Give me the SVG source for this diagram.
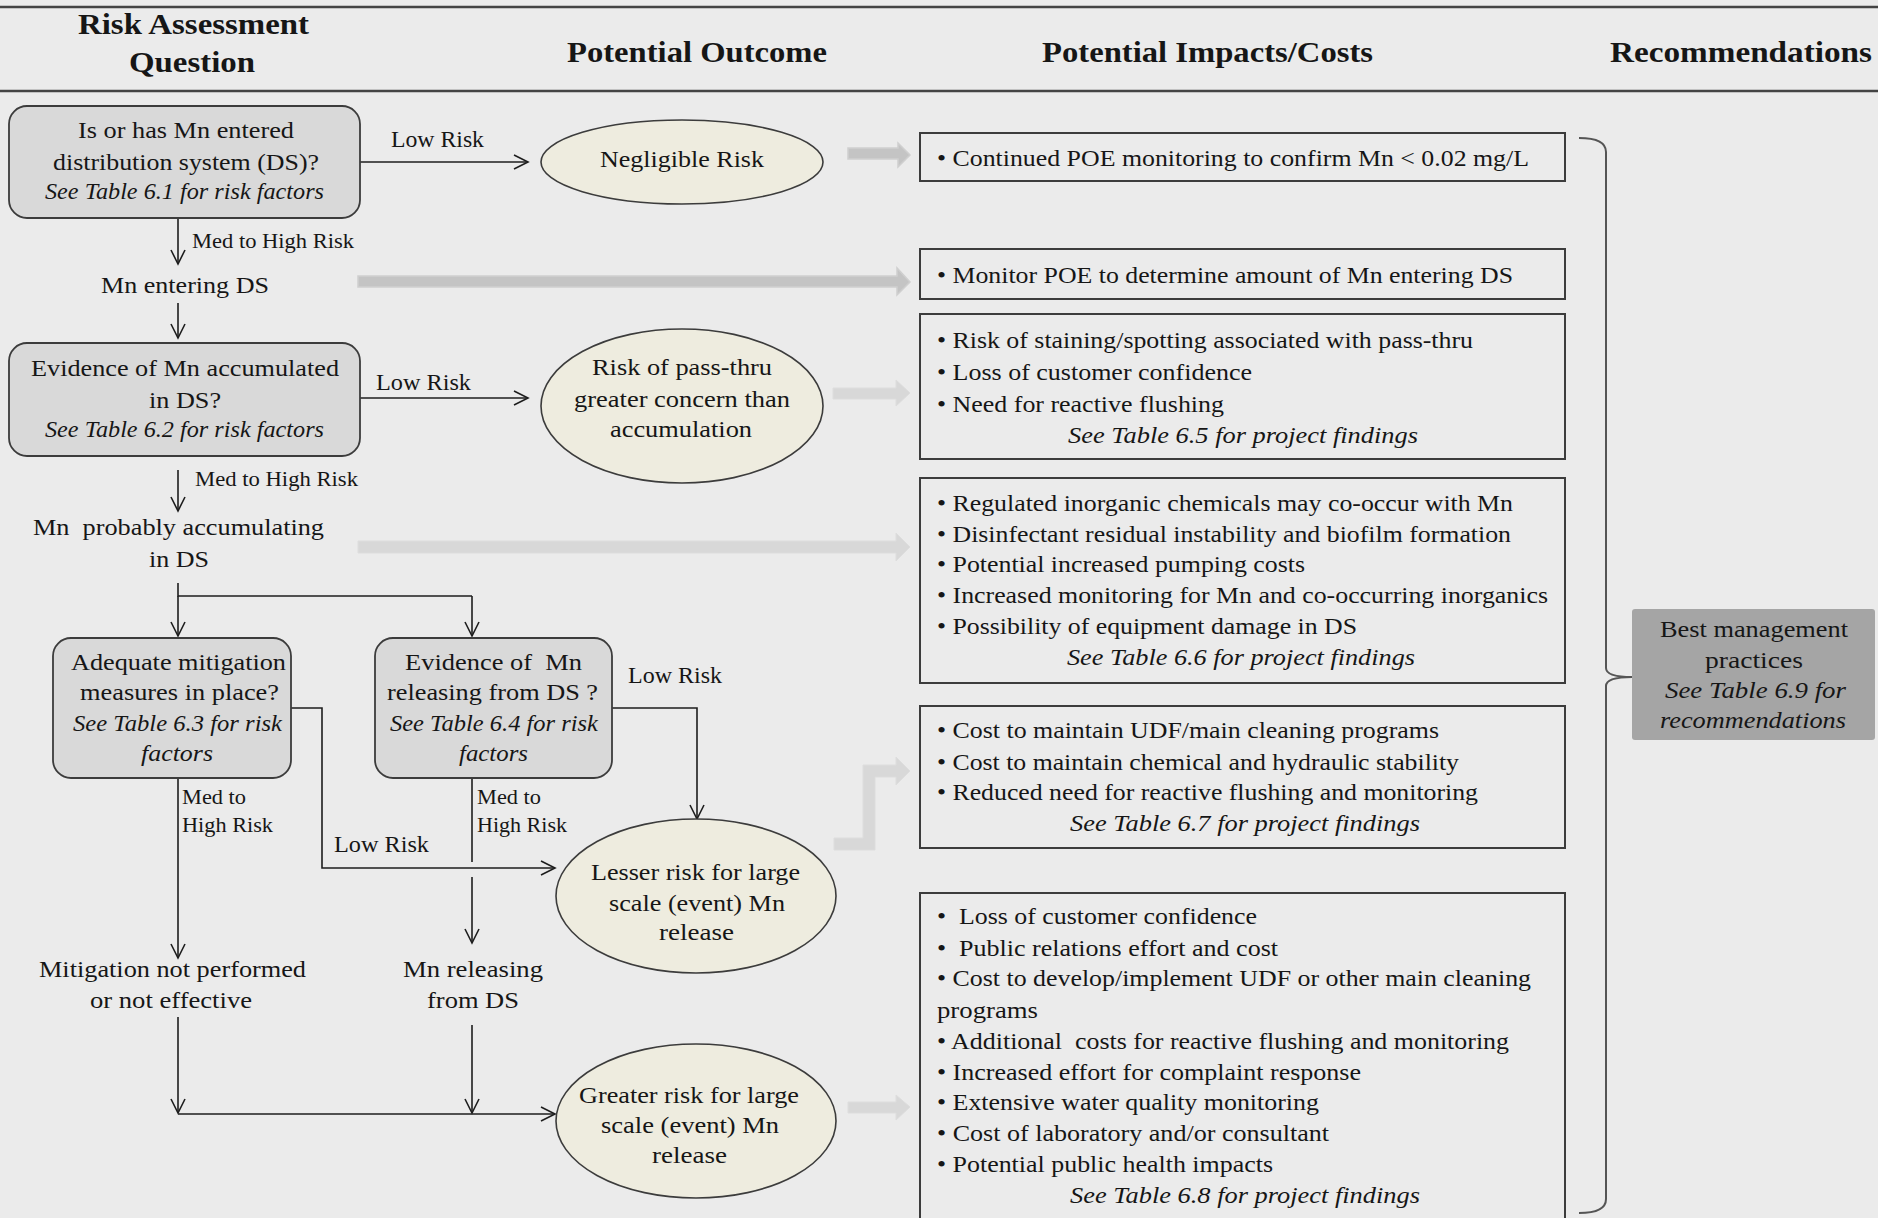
<svg xmlns="http://www.w3.org/2000/svg" width="1878" height="1218" viewBox="0 0 1878 1218">
<style>
text{font-family:"Liberation Serif","Times New Roman",serif;fill:#161616;font-size:24px}
.h{font-weight:bold;font-size:30px}
.i{font-style:italic}
.s{font-size:21px}
.q{fill:#d9d9d9;stroke:#3c3c3c;stroke-width:1.8}
.e{fill:#eeecdf;stroke:#3c3c3c;stroke-width:1.6}
.b{fill:none;stroke:#3c3c3c;stroke-width:2}
.c{fill:none;stroke:#1e1e1e;stroke-width:1.6}
.a{marker-end:url(#ah)}
.g1{fill:#c4c4c4;stroke:#cfcfcf;stroke-width:1.5}
.g2{fill:#d8d8d8;stroke:#dddddd;stroke-width:1}
</style>
<defs>
<marker id="ah" markerUnits="userSpaceOnUse" markerWidth="18" markerHeight="16" refX="15" refY="8" orient="auto">
<path d="M1,1 L15,8 L1,15" fill="none" stroke="#1e1e1e" stroke-width="1.6"/>
</marker>
</defs>
<rect x="0" y="0" width="1878" height="1218" fill="#ebebeb"/>

<g id="header">
<line x1="0" y1="7" x2="1878" y2="7" stroke="#444" stroke-width="2.5"/>
<line x1="0" y1="91" x2="1878" y2="91" stroke="#444" stroke-width="2.5"/>
<text class="h" x="78" y="34" textLength="231" lengthAdjust="spacingAndGlyphs">Risk Assessment</text>
<text class="h" x="129" y="72" textLength="126" lengthAdjust="spacingAndGlyphs">Question</text>
<text class="h" x="567" y="62" textLength="260" lengthAdjust="spacingAndGlyphs">Potential Outcome</text>
<text class="h" x="1042" y="62" textLength="331" lengthAdjust="spacingAndGlyphs">Potential Impacts/Costs</text>
<text class="h" x="1610" y="62" textLength="262" lengthAdjust="spacingAndGlyphs">Recommendations</text>
</g>

<g id="connectors">
<!-- gray block arrows -->
<polygon class="g1" points="848,148 898,148 898,143 910,155 898,167 898,159 848,159"/>
<polygon class="g1" points="358,276 897,276 897,268 910,282 897,295 897,287 358,287"/>
<polygon class="g2" points="833,388 896,388 896,380 910,393 896,406 896,399 833,399"/>
<polygon class="g2" points="358,541 896,541 896,533 910,547 896,561 896,553 358,553"/>
<polygon class="g2" points="834,838 863,838 863,765 896,765 896,757 910,771 896,785 896,777 875,777 875,850 834,850"/>
<polygon class="g2" points="848,1102 896,1102 896,1095 910,1107 896,1120 896,1113 848,1113"/>
<!-- flow lines -->
<line class="c a" x1="360" y1="162" x2="528" y2="162"/>
<line class="c a" x1="178" y1="218" x2="178" y2="264"/>
<line class="c a" x1="178" y1="303" x2="178" y2="338"/>
<line class="c a" x1="360" y1="398" x2="528" y2="398"/>
<line class="c a" x1="178" y1="470" x2="178" y2="511"/>
<polyline class="c" points="178,583 178,596 472,596"/>
<line class="c a" x1="178" y1="596" x2="178" y2="636"/>
<line class="c a" x1="472" y1="596" x2="472" y2="636"/>
<polyline class="c a" points="291,708 322,708 322,868 555,868"/>
<polyline class="c a" points="612,708 697,708 697,819"/>
<line class="c a" x1="178" y1="778" x2="178" y2="958"/>
<line class="c" x1="472" y1="778" x2="472" y2="862"/>
<line class="c a" x1="472" y1="877" x2="472" y2="943"/>
<line class="c a" x1="178" y1="1017" x2="178" y2="1113"/>
<line class="c a" x1="472" y1="1025" x2="472" y2="1113"/>
<line class="c a" x1="178" y1="1114" x2="555" y2="1114"/>
<!-- brace -->
<path d="M1579,138 Q1606,138 1606,152 L1606,668 Q1606,677 1632,677 Q1606,677 1606,686 L1606,1199 Q1606,1213 1579,1213" fill="none" stroke="#555" stroke-width="2"/>
<!-- labels -->
<text x="391" y="147" textLength="93" lengthAdjust="spacingAndGlyphs">Low Risk</text>
<text class="s" x="192" y="248" textLength="162" lengthAdjust="spacingAndGlyphs">Med to High  Risk</text>
<text x="376" y="390" textLength="95" lengthAdjust="spacingAndGlyphs">Low Risk</text>
<text class="s" x="195" y="486" textLength="163" lengthAdjust="spacingAndGlyphs">Med to High  Risk</text>
<text x="628" y="683" textLength="94" lengthAdjust="spacingAndGlyphs">Low Risk</text>
<text x="334" y="852" textLength="95" lengthAdjust="spacingAndGlyphs">Low Risk</text>
<text class="s" x="182" y="804" textLength="64" lengthAdjust="spacingAndGlyphs">Med to</text>
<text class="s" x="182" y="832" textLength="91" lengthAdjust="spacingAndGlyphs">High Risk</text>
<text class="s" x="477" y="804" textLength="64" lengthAdjust="spacingAndGlyphs">Med to</text>
<text class="s" x="477" y="832" textLength="90" lengthAdjust="spacingAndGlyphs">High Risk</text>
</g>

<g id="q1">
<rect class="q" x="9" y="106" width="351" height="112" rx="18"/>
<text x="78" y="138" textLength="216" lengthAdjust="spacingAndGlyphs">Is or has Mn entered</text>
<text x="53" y="170" textLength="266" lengthAdjust="spacingAndGlyphs">distribution system (DS)?</text>
<text class="i" x="45" y="199" textLength="279" lengthAdjust="spacingAndGlyphs">See Table 6.1 for risk factors</text>
</g>

<g id="mn-entering">
<text x="101" y="293" textLength="168" lengthAdjust="spacingAndGlyphs">Mn entering DS</text>
</g>

<g id="q2">
<rect class="q" x="9" y="343" width="351" height="113" rx="18"/>
<text x="31" y="376" textLength="308" lengthAdjust="spacingAndGlyphs">Evidence of Mn accumulated</text>
<text x="149" y="408" textLength="72" lengthAdjust="spacingAndGlyphs">in DS?</text>
<text class="i" x="45" y="437" textLength="279" lengthAdjust="spacingAndGlyphs">See Table 6.2 for risk factors</text>
</g>

<g id="mn-accumulating">
<text x="33" y="535" textLength="291" lengthAdjust="spacingAndGlyphs" xml:space="preserve">Mn  probably accumulating</text>
<text x="149" y="567" textLength="60" lengthAdjust="spacingAndGlyphs">in DS</text>
</g>

<g id="q3">
<rect class="q" x="53" y="638" width="238" height="140" rx="18"/>
<text x="71" y="670" textLength="215" lengthAdjust="spacingAndGlyphs">Adequate mitigation</text>
<text x="80" y="700" textLength="199" lengthAdjust="spacingAndGlyphs">measures in place?</text>
<text class="i" x="73" y="731" textLength="209" lengthAdjust="spacingAndGlyphs">See Table 6.3 for risk</text>
<text class="i" x="141" y="761" textLength="72" lengthAdjust="spacingAndGlyphs">factors</text>
</g>

<g id="q4">
<rect class="q" x="375" y="638" width="237" height="140" rx="18"/>
<text x="405" y="670" textLength="177" lengthAdjust="spacingAndGlyphs" xml:space="preserve">Evidence of  Mn</text>
<text x="387" y="700" textLength="211" lengthAdjust="spacingAndGlyphs">releasing from DS ?</text>
<text class="i" x="390" y="731" textLength="208" lengthAdjust="spacingAndGlyphs">See Table 6.4 for risk</text>
<text class="i" x="459" y="761" textLength="69" lengthAdjust="spacingAndGlyphs">factors</text>
</g>

<g id="mitigation-not">
<text x="39" y="977" textLength="267" lengthAdjust="spacingAndGlyphs">Mitigation not performed</text>
<text x="90" y="1008" textLength="162" lengthAdjust="spacingAndGlyphs">or not effective</text>
</g>

<g id="mn-releasing">
<text x="403" y="977" textLength="140" lengthAdjust="spacingAndGlyphs">Mn releasing</text>
<text x="427" y="1008" textLength="92" lengthAdjust="spacingAndGlyphs">from DS</text>
</g>

<g id="o1">
<ellipse class="e" cx="682" cy="162" rx="141" ry="42"/>
<text x="600" y="167" textLength="164" lengthAdjust="spacingAndGlyphs">Negligible Risk</text>
</g>

<g id="o2">
<ellipse class="e" cx="682" cy="406" rx="141" ry="77"/>
<text x="592" y="375" textLength="180" lengthAdjust="spacingAndGlyphs">Risk of pass-thru</text>
<text x="574" y="407" textLength="216" lengthAdjust="spacingAndGlyphs">greater concern than</text>
<text x="610" y="437" textLength="142" lengthAdjust="spacingAndGlyphs">accumulation</text>
</g>

<g id="o3">
<ellipse class="e" cx="696" cy="896" rx="140" ry="77"/>
<text x="591" y="880" textLength="209" lengthAdjust="spacingAndGlyphs">Lesser risk for large</text>
<text x="609" y="911" textLength="176" lengthAdjust="spacingAndGlyphs">scale (event) Mn</text>
<text x="659" y="940" textLength="75" lengthAdjust="spacingAndGlyphs">release</text>
</g>

<g id="o4">
<ellipse class="e" cx="696" cy="1121" rx="140" ry="77"/>
<text x="579" y="1103" textLength="220" lengthAdjust="spacingAndGlyphs">Greater risk for large</text>
<text x="601" y="1133" textLength="178" lengthAdjust="spacingAndGlyphs">scale (event) Mn</text>
<text x="652" y="1163" textLength="75" lengthAdjust="spacingAndGlyphs">release</text>
</g>

<g id="i1">
<rect class="b" x="920" y="133" width="645" height="48"/>
<text x="937" y="166" textLength="592" lengthAdjust="spacingAndGlyphs">• Continued POE monitoring to confirm Mn &lt; 0.02 mg/L</text>
</g>

<g id="i2">
<rect class="b" x="920" y="249" width="645" height="50"/>
<text x="937" y="283" textLength="576" lengthAdjust="spacingAndGlyphs">• Monitor POE to determine amount of Mn entering DS</text>
</g>

<g id="i3">
<rect class="b" x="920" y="314" width="645" height="145"/>
<text x="937" y="348" textLength="536" lengthAdjust="spacingAndGlyphs">• Risk of staining/spotting associated with pass-thru</text>
<text x="937" y="380" textLength="315" lengthAdjust="spacingAndGlyphs">• Loss of customer confidence</text>
<text x="937" y="412" textLength="287" lengthAdjust="spacingAndGlyphs">• Need for reactive flushing</text>
<text class="i" x="1068" y="443" textLength="350" lengthAdjust="spacingAndGlyphs">See Table 6.5 for project findings</text>
</g>

<g id="i4">
<rect class="b" x="920" y="478" width="645" height="205"/>
<text x="937" y="511" textLength="576" lengthAdjust="spacingAndGlyphs">• Regulated inorganic chemicals may co-occur with Mn</text>
<text x="937" y="542" textLength="574" lengthAdjust="spacingAndGlyphs">• Disinfectant residual instability and biofilm formation</text>
<text x="937" y="572" textLength="368" lengthAdjust="spacingAndGlyphs">• Potential increased pumping costs</text>
<text x="937" y="603" textLength="611" lengthAdjust="spacingAndGlyphs">• Increased monitoring for Mn and co-occurring inorganics</text>
<text x="937" y="634" textLength="420" lengthAdjust="spacingAndGlyphs">• Possibility of equipment damage in DS</text>
<text class="i" x="1067" y="665" textLength="348" lengthAdjust="spacingAndGlyphs">See Table 6.6 for project findings</text>
</g>

<g id="i5">
<rect class="b" x="920" y="706" width="645" height="142"/>
<text x="937" y="738" textLength="502" lengthAdjust="spacingAndGlyphs">• Cost to maintain UDF/main cleaning programs</text>
<text x="937" y="770" textLength="522" lengthAdjust="spacingAndGlyphs">• Cost to maintain chemical and hydraulic stability</text>
<text x="937" y="800" textLength="541" lengthAdjust="spacingAndGlyphs">• Reduced need for reactive flushing and monitoring</text>
<text class="i" x="1070" y="831" textLength="350" lengthAdjust="spacingAndGlyphs">See Table 6.7 for project findings</text>
</g>

<g id="i6">
<rect class="b" x="920" y="893" width="645" height="345"/>
<text x="937" y="924" textLength="320" lengthAdjust="spacingAndGlyphs" xml:space="preserve">•  Loss of customer confidence</text>
<text x="937" y="956" textLength="341" lengthAdjust="spacingAndGlyphs" xml:space="preserve">•  Public relations effort and cost</text>
<text x="937" y="986" textLength="594" lengthAdjust="spacingAndGlyphs">• Cost to develop/implement UDF or other main cleaning</text>
<text x="937" y="1018" textLength="101" lengthAdjust="spacingAndGlyphs">programs</text>
<text x="937" y="1049" textLength="572" lengthAdjust="spacingAndGlyphs" xml:space="preserve">• Additional  costs for reactive flushing and monitoring</text>
<text x="937" y="1080" textLength="424" lengthAdjust="spacingAndGlyphs">• Increased effort for complaint response</text>
<text x="937" y="1110" textLength="382" lengthAdjust="spacingAndGlyphs">• Extensive water quality monitoring</text>
<text x="937" y="1141" textLength="392" lengthAdjust="spacingAndGlyphs">• Cost of laboratory and/or consultant</text>
<text x="937" y="1172" textLength="336" lengthAdjust="spacingAndGlyphs">• Potential public health impacts</text>
<text class="i" x="1070" y="1203" textLength="350" lengthAdjust="spacingAndGlyphs">See Table 6.8 for project findings</text>
</g>

<g id="rec">
<rect x="1632" y="609" width="243" height="131" rx="3" fill="#a5a5a5"/>
<text x="1660" y="637" textLength="188" lengthAdjust="spacingAndGlyphs">Best management</text>
<text x="1705" y="668" textLength="98" lengthAdjust="spacingAndGlyphs">practices</text>
<text class="i" x="1665" y="698" textLength="181" lengthAdjust="spacingAndGlyphs">See Table 6.9 for</text>
<text class="i" x="1660" y="728" textLength="186" lengthAdjust="spacingAndGlyphs">recommendations</text>
</g>
</svg>
